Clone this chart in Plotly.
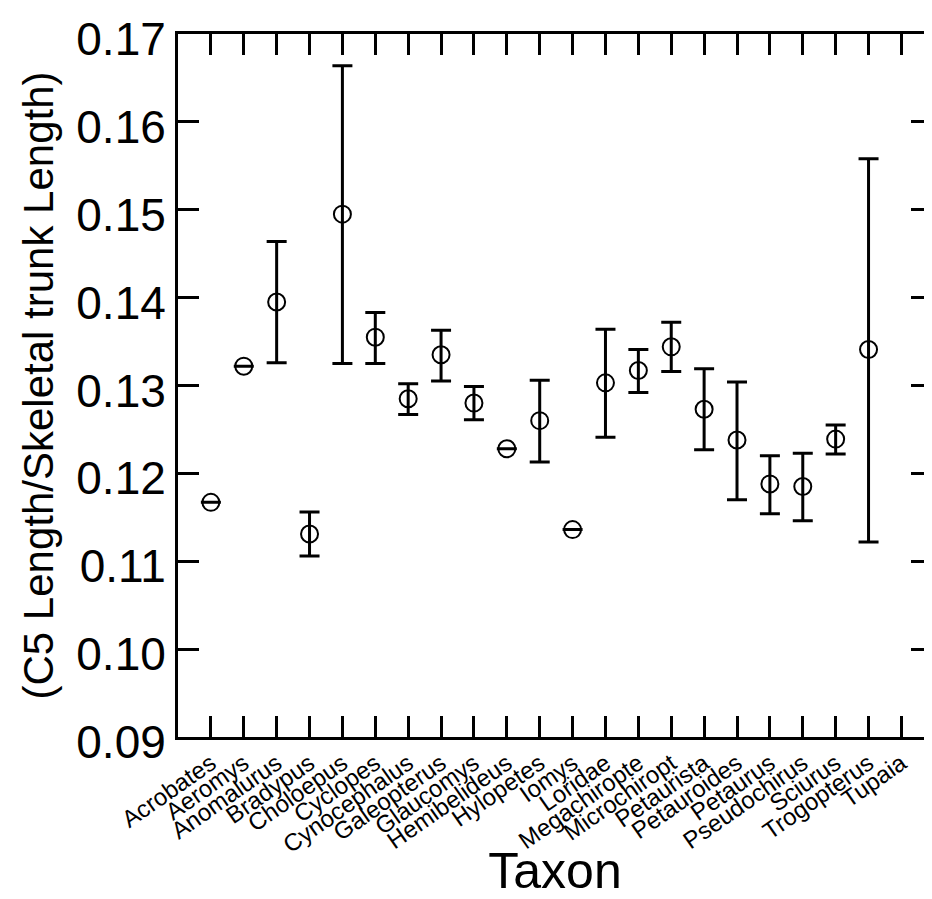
import plotly.graph_objects as go

taxa = ["Acrobates", "Aeromys", "Anomalurus", "Bradypus", "Choloepus", "Cyclopes",
        "Cynocephalus", "Galeopterus", "Glaucomys", "Hemibelideus", "Hylopetes", "Iomys",
        "Loridae", "Megachiropte", "Microchiropt", "Petaurista", "Petauroides", "Petaurus",
        "Pseudochirus", "Sciurus", "Trogopterus", "Tupaia"]
mean = [0.1167, 0.1322, 0.1395, 0.1131, 0.1495, 0.1355, 0.1285, 0.1335, 0.1280, 0.1228,
        0.1260, 0.1136, 0.1303, 0.1317, 0.1344, 0.1273, 0.1238, 0.1188, 0.1185, 0.1239,
        0.1341, None]
upper = [0.1167, 0.1322, 0.1464, 0.1156, 0.1664, 0.1383, 0.1302, 0.1363, 0.1299, 0.1228,
         0.1306, 0.1136, 0.1364, 0.1341, 0.1372, 0.1319, 0.1304, 0.1220, 0.1223, 0.1255,
         0.1558, None]
lower = [0.1167, 0.1322, 0.1326, 0.1106, 0.1325, 0.1325, 0.1267, 0.1305, 0.1261, 0.1228,
         0.1213, 0.1136, 0.1241, 0.1292, 0.1316, 0.1227, 0.1170, 0.1154, 0.1146, 0.1222,
         0.1122, None]
yticks = [0.09, 0.10, 0.11, 0.12, 0.13, 0.14, 0.15, 0.16, 0.17]

xpos = list(range(1, len(taxa) + 1))
plus = [(u - m) if m is not None else None for u, m in zip(upper, mean)]
minus = [(m - l) if m is not None else None for l, m in zip(lower, mean)]

FONT = "Liberation Sans, Arial, sans-serif"

fig = go.Figure()
fig.add_trace(go.Scatter(
    x=xpos, y=mean, mode="markers",
    marker=dict(symbol="circle-open", size=17, color="black", line=dict(width=2, color="black")),
    error_y=dict(type="data", array=plus, arrayminus=minus, symmetric=False,
                 color="black", thickness=3, width=10),
    showlegend=False,
))
# invisible trace to carry the right-hand tick marks
fig.add_trace(go.Scatter(x=[None], y=[None], yaxis="y2", showlegend=False))

# the page body adds an 8px margin, so the figure is 8px smaller than the window
fig.update_layout(
    width=924, height=891,
    margin=dict(l=170, r=0, t=26, b=162),
    paper_bgcolor="white", plot_bgcolor="white",
    font=dict(family=FONT, color="black"),
    xaxis=dict(
        range=[0, 22.93], tickmode="array", tickvals=xpos, ticktext=taxa,
        tickangle=-35, tickfont=dict(size=24, family=FONT),
        ticks="inside", ticklen=21, tickwidth=3, tickcolor="black",
        showline=True, linewidth=3, linecolor="black", mirror="ticks",
        showgrid=False, zeroline=False, automargin=False,
        title=dict(text="Taxon", font=dict(size=50, family=FONT), standoff=10),
    ),
    yaxis=dict(
        range=[0.09, 0.17], tickmode="array", tickvals=yticks, tickformat=".2f",
        tickfont=dict(size=46, family=FONT), ticklabelshift=5,
        ticks="inside", ticklen=21, tickwidth=3, tickcolor="black",
        showline=True, linewidth=3, linecolor="black",
        showgrid=False, zeroline=False, automargin=False,
        title=dict(text="(C5 Length/Skeletal trunk Length)", font=dict(size=42, family=FONT), standoff=10),
    ),
    yaxis2=dict(
        range=[0.09, 0.17], tickmode="array", tickvals=yticks, overlaying="y", side="right",
        anchor="x", showticklabels=False, ticks="inside", ticklen=21, tickwidth=3, tickcolor="black",
        showline=False, showgrid=False, zeroline=False, automargin=False,
    ),
)

fig.write_html("out.html")
